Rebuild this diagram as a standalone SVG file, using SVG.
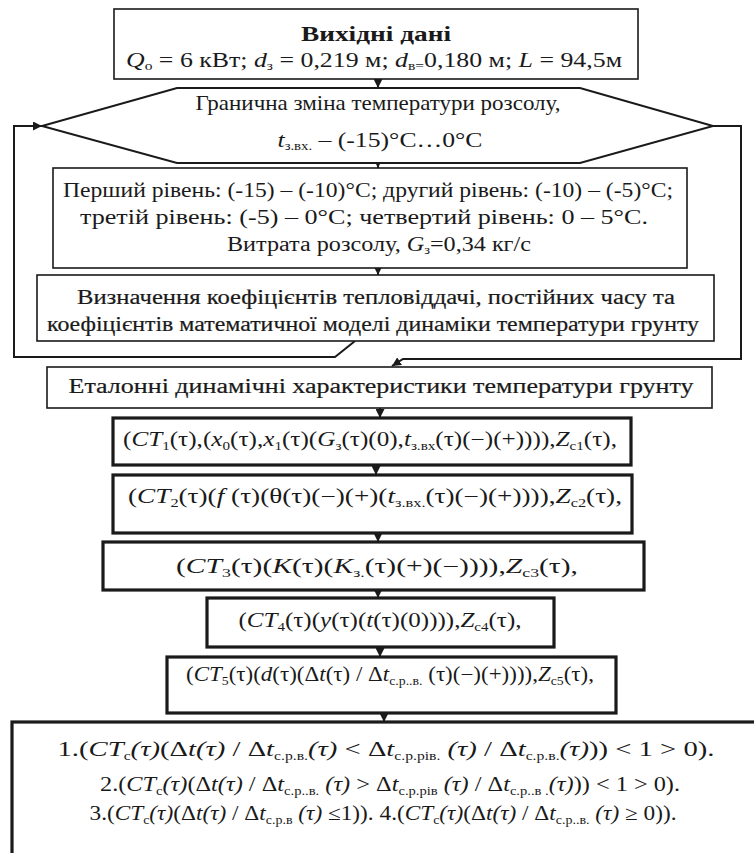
<svg xmlns="http://www.w3.org/2000/svg" width="754" height="853" viewBox="0 0 754 853">
<style>
.bg{fill:#fff}
.b1{fill:#fff;stroke:#1a1a1a;stroke-width:1.6}
.b2{fill:#fff;stroke:#1a1a1a;stroke-width:2}
.b3{fill:#fff;stroke:#1a1a1a;stroke-width:3.2}
.c{fill:none;stroke:#1a1a1a;stroke-width:2}
text{font-family:"Liberation Serif","Times New Roman",serif;font-size:20px;fill:#1a1a1a;text-anchor:middle}
.bd{font-weight:bold}
.hv{stroke:#1a1a1a;stroke-width:0.2}
.i{font-style:italic}
.s{font-size:12px}
.f1{font-size:22px}
.h{font-size:21px}
</style>
<defs>
<marker id="ah" viewBox="0 0 10 10" refX="10" refY="5" markerWidth="9" markerHeight="9" markerUnits="userSpaceOnUse" orient="auto">
<path d="M0,0 L10,5 L0,10 z" fill="#1a1a1a"/>
</marker>
</defs>
<rect class="bg" x="0" y="0" width="754" height="853"/>

<g id="connectors">
<line class="c" x1="378" y1="79" x2="378" y2="88" marker-end="url(#ah)"/>
<line class="c" x1="378" y1="163" x2="378" y2="168" marker-end="url(#ah)"/>
<line class="c" x1="378" y1="268" x2="378" y2="275" marker-end="url(#ah)"/>
<polyline class="c" points="355,341 335,357 14,357 14,126 42,126" marker-end="url(#ah)"/>
<polyline class="c" points="713,126 741,126 741,359 403,359 392,366" marker-end="url(#ah)"/>
<line class="c" x1="380" y1="408" x2="380" y2="418" marker-end="url(#ah)"/>
<line class="c" x1="376" y1="465" x2="376" y2="475" marker-end="url(#ah)"/>
<line class="c" x1="378" y1="533" x2="378" y2="542" marker-end="url(#ah)"/>
<line class="c" x1="378" y1="590" x2="378" y2="598" marker-end="url(#ah)"/>
<line class="c" x1="380" y1="647" x2="380" y2="657" marker-end="url(#ah)"/>
<line class="c" x1="384" y1="713" x2="384" y2="722" marker-end="url(#ah)"/>
</g>

<g id="n1">
<rect class="b1" x="114" y="9" width="524" height="70"/>
<text class="bd" x="376" y="41" textLength="150" lengthAdjust="spacingAndGlyphs">Вихідні дані</text>
<text x="374" y="67" textLength="496" lengthAdjust="spacingAndGlyphs"><tspan class="i">Q</tspan><tspan class="s" dy="3">о</tspan><tspan dy="-3"> = 6 кВт; </tspan><tspan class="i">d</tspan><tspan class="s" dy="3">з</tspan><tspan dy="-3"> = 0,219 м; </tspan><tspan class="i">d</tspan><tspan class="s" dy="3">в=</tspan><tspan dy="-3">0,180 м; </tspan><tspan class="i">L</tspan> = 94,5м</text>
</g>

<g id="n2">
<polygon class="b2" points="177,88 580,88 713,126 580,163 177,163 42,126"/>
<text class="h" x="378" y="110" textLength="365" lengthAdjust="spacingAndGlyphs">Гранична зміна температури розсолу,</text>
<text class="h" x="380" y="147" textLength="205" lengthAdjust="spacingAndGlyphs"><tspan class="i">t</tspan><tspan class="s" dy="3">з.вх.</tspan><tspan dy="-3"> – (-15)°C…0°C</tspan></text>
</g>

<g id="n3">
<rect class="b1" x="53" y="168" width="634" height="100"/>
<text x="368" y="197" textLength="610" lengthAdjust="spacingAndGlyphs">Перший рівень: (-15) – (-10)°С; другий рівень: (-10) – (-5)°С;</text>
<text x="364" y="224" textLength="568" lengthAdjust="spacingAndGlyphs">третій рівень: (-5) – 0°С; четвертий  рівень: 0 – 5°С.</text>
<text x="379" y="251" textLength="304" lengthAdjust="spacingAndGlyphs">Витрата розсолу, <tspan class="i">G</tspan><tspan class="s" dy="3">з</tspan><tspan dy="-3">=0,34 кг/с</tspan></text>
</g>

<g id="n4">
<rect class="b1" x="37" y="275" width="677" height="66"/>
<text class="hv" x="376" y="304" textLength="598" lengthAdjust="spacingAndGlyphs">Визначення  коефіцієнтів тепловіддачі, постійних часу та</text>
<text class="hv" x="373" y="331" textLength="652" lengthAdjust="spacingAndGlyphs">коефіцієнтів математичної моделі динаміки температури грунту</text>
</g>

<g id="n5">
<rect class="b1" x="47" y="367" width="665" height="41"/>
<text class="hv" x="381" y="393" textLength="625" lengthAdjust="spacingAndGlyphs">Еталонні динамічні характеристики температури грунту</text>
</g>

<g id="n6">
<rect class="b3" x="113" y="418" width="518" height="47"/>
<text x="370" y="446" textLength="494" lengthAdjust="spacingAndGlyphs">(<tspan class="i">CT</tspan><tspan class="s" dy="4">1</tspan><tspan dy="-4">(τ),(</tspan><tspan class="i">x</tspan><tspan class="s" dy="4">0</tspan><tspan dy="-4">(τ),</tspan><tspan class="i">x</tspan><tspan class="s" dy="4">1</tspan><tspan dy="-4">(τ)(</tspan><tspan class="i">G</tspan><tspan class="s" dy="4">з</tspan><tspan dy="-4">(τ)(0),</tspan><tspan class="i">t</tspan><tspan class="s" dy="4">з.вх</tspan><tspan dy="-4">(τ)(−)(+)))),</tspan><tspan class="i">Z</tspan><tspan class="s" dy="4">c1</tspan><tspan dy="-4">(τ),</tspan></text>
</g>

<g id="n7">
<rect class="b3" x="113" y="475" width="519" height="58"/>
<text x="375" y="503" textLength="494" lengthAdjust="spacingAndGlyphs">(<tspan class="i">CT</tspan><tspan class="s" dy="4">2</tspan><tspan dy="-4">(τ)(</tspan><tspan class="i">f</tspan><tspan> (τ)(θ(τ)(−)(+)(</tspan><tspan class="i">t</tspan><tspan class="s" dy="4">з.вх.</tspan><tspan dy="-4">(τ)(−)(+)))),</tspan><tspan class="i">Z</tspan><tspan class="s" dy="4">c2</tspan><tspan dy="-4">(τ),</tspan></text>
</g>

<g id="n8">
<rect class="b3" x="103" y="542" width="541" height="48"/>
<text x="377" y="573" textLength="402" lengthAdjust="spacingAndGlyphs">(<tspan class="i">CT</tspan><tspan class="s" dy="4">3</tspan><tspan dy="-4">(τ)(</tspan><tspan class="i">K</tspan><tspan>(τ)(</tspan><tspan class="i">K</tspan><tspan class="s" dy="4">з.</tspan><tspan dy="-4">(τ)(+)(−)))),</tspan><tspan class="i">Z</tspan><tspan class="s" dy="4">c3</tspan><tspan dy="-4">(τ),</tspan></text>
</g>

<g id="n9">
<rect class="b3" x="207" y="598" width="347" height="49"/>
<text x="380" y="627" textLength="283" lengthAdjust="spacingAndGlyphs">(<tspan class="i">CT</tspan><tspan class="s" dy="4">4</tspan><tspan dy="-4">(τ)(</tspan><tspan class="i">y</tspan><tspan>(τ)(</tspan><tspan class="i">t</tspan><tspan>(τ)(0)))),</tspan><tspan class="i">Z</tspan><tspan class="s" dy="4">c4</tspan><tspan dy="-4">(τ),</tspan></text>
</g>

<g id="n10">
<rect class="b3" x="167" y="657" width="449" height="56"/>
<text x="390" y="681" textLength="408" lengthAdjust="spacingAndGlyphs">(<tspan class="i">CT</tspan><tspan class="s" dy="4">5</tspan><tspan dy="-4">(τ)(</tspan><tspan class="i">d</tspan><tspan>(τ)(Δ</tspan><tspan class="i">t</tspan><tspan>(τ) / Δ</tspan><tspan class="i">t</tspan><tspan class="s" dy="4">с.р..в.</tspan><tspan dy="-4"> (τ)(−)(+)))),</tspan><tspan class="i">Z</tspan><tspan class="s" dy="4">c5</tspan><tspan dy="-4">(τ),</tspan></text>
</g>

<g id="n11">
<rect class="b3" x="12" y="722" width="760" height="150"/>
<text class="f1" x="386" y="756" textLength="657" lengthAdjust="spacingAndGlyphs">1.(<tspan class="i">CT</tspan><tspan class="s" dy="4">с</tspan><tspan dy="-4" class="i">(τ)</tspan><tspan>(Δ</tspan><tspan class="i">t(τ)</tspan><tspan> / Δ</tspan><tspan class="i">t</tspan><tspan class="s" dy="4">с.р.в.</tspan><tspan dy="-4" class="i">(τ)</tspan><tspan> &lt; Δ</tspan><tspan class="i">t</tspan><tspan class="s" dy="4">с.р.рів.</tspan><tspan dy="-4" class="i"> (τ)</tspan><tspan> / Δ</tspan><tspan class="i">t</tspan><tspan class="s" dy="4">с.р.в.</tspan><tspan dy="-4" class="i">(τ)</tspan><tspan>)) &lt; 1 &gt; 0).</tspan></text>
<text x="390" y="791" textLength="580" lengthAdjust="spacingAndGlyphs">2.(<tspan class="i">CT</tspan><tspan class="s" dy="4">с</tspan><tspan dy="-4" class="i">(τ)</tspan><tspan>(Δ</tspan><tspan class="i">t(τ)</tspan><tspan> / Δ</tspan><tspan class="i">t</tspan><tspan class="s" dy="4">с.р..в.</tspan><tspan dy="-4" class="i"> (τ)</tspan><tspan> &gt; Δ</tspan><tspan class="i">t</tspan><tspan class="s" dy="4">с.р.рів</tspan><tspan dy="-4" class="i"> (τ)</tspan><tspan> / Δ</tspan><tspan class="i">t</tspan><tspan class="s" dy="4">с.р..в .</tspan><tspan dy="-4" class="i">(τ)</tspan><tspan>)) &lt; 1 &gt; 0).</tspan></text>
<text x="383" y="820" textLength="587" lengthAdjust="spacingAndGlyphs">3.(<tspan class="i">CT</tspan><tspan class="s" dy="4">с</tspan><tspan dy="-4" class="i">(τ)</tspan><tspan>(Δ</tspan><tspan class="i">t(τ)</tspan><tspan> / Δ</tspan><tspan class="i">t</tspan><tspan class="s" dy="4">с.р.в</tspan><tspan dy="-4" class="i"> (τ)</tspan><tspan> ≤1)).  4.(</tspan><tspan class="i">CT</tspan><tspan class="s" dy="4">с</tspan><tspan dy="-4" class="i">(τ)</tspan><tspan>(Δ</tspan><tspan class="i">t(τ)</tspan><tspan> / Δ</tspan><tspan class="i">t</tspan><tspan class="s" dy="4">с.р..в.</tspan><tspan dy="-4" class="i"> (τ)</tspan><tspan> ≥ 0)).</tspan></text>
</g>
</svg>
